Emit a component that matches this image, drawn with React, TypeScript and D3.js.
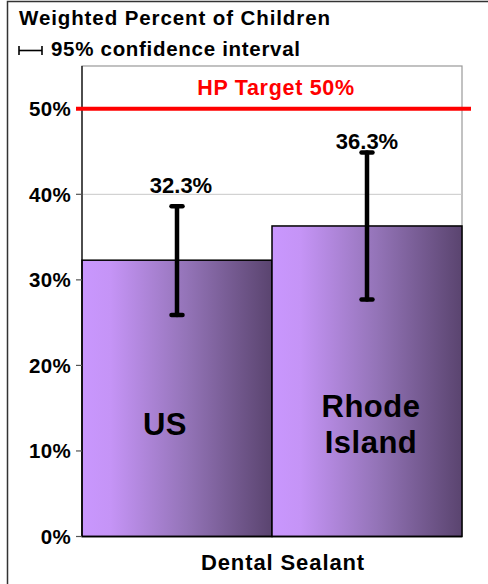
import React from "react";
import * as d3 from "d3";

const categories = ["US", "Rhode Island"];
const categoryLines = [["US"], ["Rhode", "Island"]];
const values = [32.3, 36.3];
const ciLow = [25.9, 27.7];
const ciHigh = [38.6, 44.9];
const yTicks = [0, 10, 20, 30, 40, 50];
const target = 50;
const targetLabel = "HP Target 50%";
const xTitle = "Dental Sealant";
const yTitle = "Weighted Percent of Children";
const ciLegend = "95% confidence interval";

// layout (not data)
const valueLabelAt = [40.1, 45.3];
const catLabelDx = [-12, 4];
const valueLabelDx = [4, 0];

const W = 488;
const H = 584;
const FONT = "'Liberation Sans', Arial, Helvetica, sans-serif";

export default function App() {
  const x = d3.scaleBand<string>().domain(categories).range([82, 462]).padding(0);
  const y = d3.scaleLinear().domain([0, 55]).range([536.5, 66]);
  const bw = x.bandwidth();

  return (
    <svg
      width={W}
      height={H}
      viewBox={`0 0 ${W} ${H}`}
      style={{ position: "absolute", left: 0, top: 0, background: "#fff" }}
      fontFamily={FONT}
    >
      <defs>
        <linearGradient id="barGrad" x1="0" x2="1" y1="0" y2="0">
          <stop offset="0%" stopColor="#C997FE" />
          <stop offset="15%" stopColor="#C594F6" />
          <stop offset="55%" stopColor="#9474B8" />
          <stop offset="100%" stopColor="#5A446F" />
        </linearGradient>
      </defs>
      <rect x={0} y={0} width={W} height={H} fill="#fff" />
      {/* outer frame */}
      <path d={`M7.5,${H + 5} V1.5 H${W + 5}`} fill="none" stroke="#333" strokeWidth={1.5} />

      {/* titles */}
      <text x={19} y={25} fontSize={20.5} fontWeight="bold" letterSpacing={0.9} fill="#000">
        {yTitle}
      </text>
      <g stroke="#000" strokeWidth={1.6}>
        <line x1={19} x2={19} y1={46} y2={55} />
        <line x1={42} x2={42} y1={46} y2={55} />
        <line x1={19} x2={42} y1={50.5} y2={50.5} />
      </g>
      <text x={51} y={56} fontSize={20.5} fontWeight="bold" letterSpacing={0.7} fill="#000">
        {ciLegend}
      </text>

      {/* plot area */}
      <rect x={82} y={66} width={380} height={536.5 - 66} fill="#fff" stroke="#999" strokeWidth={1.2} />
      {yTicks
        .filter((t) => t > 0)
        .map((t) => (
          <line key={t} x1={82} x2={462} y1={y(t)} y2={y(t)} stroke="#C8C8C8" strokeWidth={1} />
        ))}

      {/* bars */}
      {categories.map((c, i) => (
        <rect
          key={c}
          x={x(c)!}
          y={y(values[i])}
          width={bw}
          height={y(0) - y(values[i])}
          fill="url(#barGrad)"
          stroke="#000"
          strokeWidth={1.5}
        />
      ))}

      {/* axes */}
      <line x1={82} x2={82} y1={66} y2={y(0)} stroke="#000" strokeWidth={1.2} />
      <line x1={82} x2={462} y1={y(0)} y2={y(0)} stroke="#000" strokeWidth={1.5} />
      {yTicks.map((t) => (
        <g key={t}>
          <line x1={76} x2={82} y1={y(t)} y2={y(t)} stroke="#555" strokeWidth={1.2} />
          <text
            x={71}
            y={y(t)}
            dy="0.36em"
            textAnchor="end"
            fontSize={20.5}
            fontWeight="bold"
            letterSpacing={0.3}
            fill="#000"
          >
            {`${t}%`}
          </text>
        </g>
      ))}

      {/* target line */}
      <line x1={76} x2={471} y1={y(target)} y2={y(target)} stroke="#FF0000" strokeWidth={4} />
      <text
        x={276}
        y={95}
        textAnchor="middle"
        fontSize={21.5}
        fontWeight="bold"
        letterSpacing={0.7}
        fill="#FF0000"
      >
        {targetLabel}
      </text>

      {/* error bars */}
      {categories.map((c, i) => {
        const cx = x(c)! + bw / 2;
        return (
          <g key={c} stroke="#000" strokeWidth={4.5} strokeLinecap="round">
            <line x1={cx} x2={cx} y1={y(ciLow[i])} y2={y(ciHigh[i])} />
            <line x1={cx - 5.5} x2={cx + 5.5} y1={y(ciLow[i])} y2={y(ciLow[i])} />
            <line x1={cx - 5.5} x2={cx + 5.5} y1={y(ciHigh[i])} y2={y(ciHigh[i])} />
          </g>
        );
      })}

      {/* value labels */}
      {categories.map((c, i) => (
        <text
          key={c}
          x={x(c)! + bw / 2 + valueLabelDx[i]}
          y={y(valueLabelAt[i])}
          textAnchor="middle"
          fontSize={22}
          fontWeight="bold"
          fill="#000"
        >
          {`${values[i].toFixed(1)}%`}
        </text>
      ))}

      {/* category labels inside bars */}
      {categories.map((c, i) => {
        const lines = categoryLines[i];
        const lh = 36.5;
        const mid = 424;
        return (
          <text
            key={c}
            textAnchor="middle"
            fontSize={31}
            fontWeight="bold"
            letterSpacing={0.5}
            fill="#000"
          >
            {lines.map((l, j) => (
              <tspan
                key={l}
                x={x(c)! + bw / 2 + catLabelDx[i]}
                y={mid + 11 + (j - (lines.length - 1) / 2) * lh}
              >
                {l}
              </tspan>
            ))}
          </text>
        );
      })}

      {/* x title */}
      <text
        x={283}
        y={570}
        textAnchor="middle"
        fontSize={22}
        fontWeight="bold"
        letterSpacing={0.9}
        fill="#000"
      >
        {xTitle}
      </text>
    </svg>
  );
}
